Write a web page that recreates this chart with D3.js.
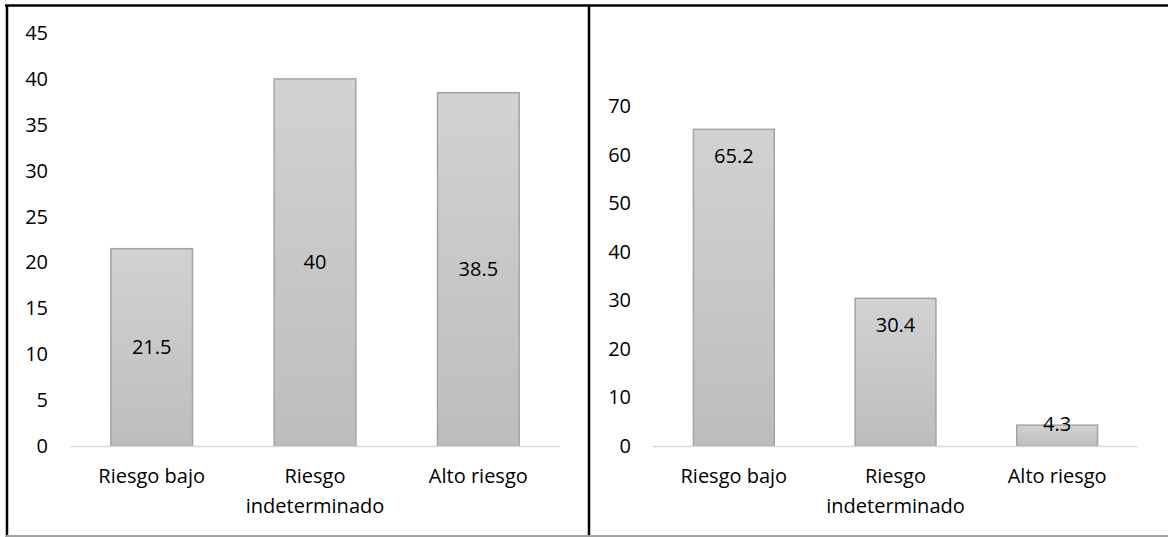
<!DOCTYPE html>
<html>
<head>
<meta charset="utf-8">
<script src="https://cdn.jsdelivr.net/npm/d3@7"></script>
<style>
  html, body { margin: 0; padding: 0; background: #fff; }
  text { font-family: "Open Sans", "Noto Sans", sans-serif; fill: #000; }
</style>
</head>
<body>
<svg id="chart" width="1168" height="537"></svg>
<script>
const categories = [["Riesgo bajo"], ["Riesgo", "indeterminado"], ["Alto riesgo"]];
const leftValues = [21.5, 40, 38.5];
const rightValues = [65.2, 30.4, 4.3];
const leftTicks = [0, 5, 10, 15, 20, 25, 30, 35, 40, 45];
const rightTicks = [0, 10, 20, 30, 40, 50, 60, 70];

const fontSize = 20;
const svg = d3.select("#chart");
const defs = svg.append("defs");
const grad = defs.append("linearGradient")
  .attr("id", "barGrad")
  .attr("x1", 0).attr("y1", 0).attr("x2", 0).attr("y2", 1);
grad.append("stop").attr("offset", "0%").attr("stop-color", "#d2d2d2");
grad.append("stop").attr("offset", "100%").attr("stop-color", "#bdbdbd");

const baseY = 446;

function drawPanel(opts) {
  const g = svg.append("g");
  const x = d3.scaleBand()
    .domain(categories.map((d, i) => i))
    .range([opts.x0, opts.x1])
    .paddingInner(0.5)
    .paddingOuter(0.25);
  const y = d3.scaleLinear()
    .domain([0, opts.max])
    .range([baseY, opts.yTop]);

  // y tick labels
  g.append("g")
    .selectAll("text")
    .data(opts.ticks)
    .join("text")
    .attr("x", opts.labelX)
    .attr("y", d => y(d))
    .attr("dy", "0.35em")
    .attr("text-anchor", "end")
    .attr("font-size", fontSize)
    .text(d => d);

  // bars
  g.append("g")
    .selectAll("rect")
    .data(opts.values)
    .join("rect")
    .attr("x", (d, i) => x(i))
    .attr("y", d => y(d))
    .attr("width", x.bandwidth())
    .attr("height", d => baseY - y(d))
    .attr("fill", "url(#barGrad)")
    .attr("stroke", "#a3a3a3")
    .attr("stroke-width", 1.5);

  // baseline
  g.append("line")
    .attr("x1", opts.x0).attr("x2", opts.x1)
    .attr("y1", baseY + 0.5).attr("y2", baseY + 0.5)
    .attr("stroke", "#d9d9d9")
    .attr("stroke-width", 1.5);

  // value labels
  g.append("g")
    .selectAll("text")
    .data(opts.values)
    .join("text")
    .attr("x", (d, i) => x(i) + x.bandwidth() / 2)
    .attr("y", d => opts.labelPos(y(d)))
    .attr("dy", "0.35em")
    .attr("text-anchor", "middle")
    .attr("font-size", fontSize)
    .text(d => d);

  // category labels
  g.append("g")
    .selectAll("text")
    .data(categories)
    .join("text")
    .attr("x", (d, i) => x(i) + x.bandwidth() / 2)
    .attr("y", 476)
    .attr("text-anchor", "middle")
    .attr("font-size", fontSize)
    .call(t => t.selectAll("tspan")
      .data(d => d)
      .join("tspan")
      .attr("x", function () { return this.parentNode.getAttribute("x"); })
      .attr("dy", (d, j) => j === 0 ? "0.35em" : "1.5em")
      .text(d => d));
}

drawPanel({
  x0: 70, x1: 560, max: 45, yTop: 33, ticks: leftTicks, values: leftValues,
  labelX: 48,
  labelPos: top => (top + baseY) / 2
});

drawPanel({
  x0: 653, x1: 1138, max: 70, yTop: 106, ticks: rightTicks, values: rightValues,
  labelX: 631,
  labelPos: top => (baseY - top > 40 ? top + 27 : top - 1)
});

// panel borders
svg.append("line").attr("x1", 5).attr("x2", 1168).attr("y1", 5.5).attr("y2", 5.5)
  .attr("stroke", "#000").attr("stroke-width", 2.5);
svg.append("line").attr("x1", 7).attr("x2", 7).attr("y1", 5).attr("y2", 535)
  .attr("stroke", "#000").attr("stroke-width", 2.5);
svg.append("line").attr("x1", 589).attr("x2", 589).attr("y1", 5).attr("y2", 535)
  .attr("stroke", "#000").attr("stroke-width", 2.5);
svg.append("line").attr("x1", 5).attr("x2", 1168).attr("y1", 536).attr("y2", 536)
  .attr("stroke", "#a0a0a0").attr("stroke-width", 2);
</script>
</body>
</html>
